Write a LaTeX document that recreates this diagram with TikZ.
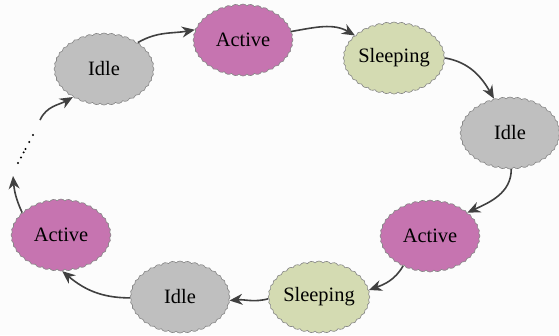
\documentclass[tikz,border=0pt]{standalone}
\usepackage{fontspec}
\setmainfont{Liberation Serif}
\usetikzlibrary{shapes.symbols,arrows.meta,calc}
\definecolor{idlefill}{RGB}{191,191,191}
\definecolor{activefill}{RGB}{198,116,176}
\definecolor{sleepfill}{RGB}{212,219,178}
\definecolor{cloudline}{RGB}{135,135,135}
\definecolor{flowline}{RGB}{64,64,64}
\definecolor{paper}{RGB}{252,252,252}
\begin{document}
\begin{tikzpicture}[x=1bp,y=-1bp,
  state/.style={cloud, cloud puffs=40, cloud puff arc=100, cloud ignores aspect,
    draw=cloudline, line width=0.6bp, minimum width=100bp, minimum height=72bp,
    inner sep=0pt, font=\fontsize{20.5}{24}\selectfont},
  idle/.style={state, fill=idlefill},
  active/.style={state, fill=activefill},
  sleep/.style={state, fill=sleepfill},
  flow/.style={draw=flowline, line width=1.6bp,
    -{Stealth[length=13bp,width=11bp]}}]
\fill[paper] (0,0) rectangle (559,335);
\useasboundingbox (0,0) rectangle (559,335);

% the cycle of states
\node[idle]   (i1) at (104,69)  {Idle};
\node[active] (a1) at (243,40)  {Active};
\node[sleep]  (s1) at (394,58)  {Sleeping};
\node[idle]   (i2) at (510,133) {Idle};
\node[active] (a2) at (430,236) {Active};
\node[sleep]  (s2) at (319,297) {Sleeping};
\node[idle]   (i3) at (180,297) {Idle};
\node[active] (a3) at (61,235)  {Active};

% open ends of the cycle
\coordinate (up)   at (13,176);
\coordinate (dotA) at (18,163);
\coordinate (dotB) at (33,135);
\coordinate (back) at (40,120);

% transitions
\draw[flow] (i1.38)  to[out=30,in=190]  (a1.168);
\draw[flow] (a1.10)  to[out=10,in=150]  (s1.150);
\draw[flow] (s1.0)   to[out=-10,in=120] (i2.115);
\draw[flow] (i2.272) to[out=-90,in=25]  (a2.32);
\draw[flow] (a2.228) to[out=240,in=20]  (s2.8);
\draw[flow] (s2.182) to[out=195,in=5]   (i3.-4);
\draw[flow] (i3.181) to[out=180,in=-40] (a3.-88);
\draw[flow] (a3.150) to[out=115,in=-85] (up);
\draw[flow] (back)   to[out=65,in=210]  (i1.222);

% dotted continuation
\foreach \t in {0,0.2,0.38,0.5,0.75,1}
  \fill[black] ($(dotA)!\t!(dotB)$) circle (1.1bp);
\end{tikzpicture}
\end{document}
